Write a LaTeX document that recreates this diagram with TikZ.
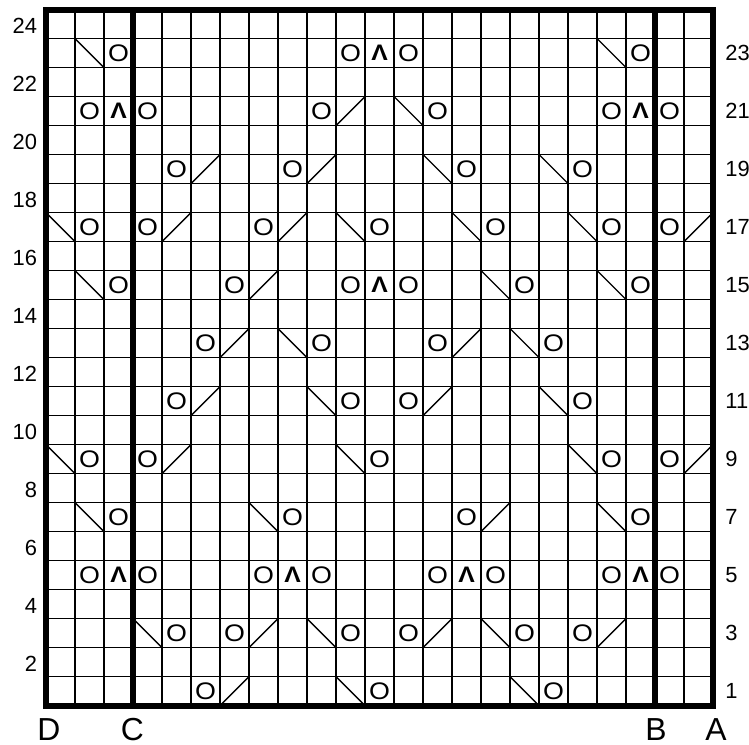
\documentclass[tikz,border=0pt]{standalone}
\usepackage{fontspec}
\setmainfont{Liberation Sans}
\begin{document}
\begin{tikzpicture}[x=0.8cm, y=0.8cm,
        rejilla/.style={line width=1.1pt},
        borde/.style={line width=4.7pt},
        diag/.style={line width=1.1pt},
        simbolo/.style={inner sep=0pt, xscale=1.12, font=\fontsize{18.8}{18.8}\selectfont},
        dismin/.style={inner sep=0pt, xscale=1.1, font=\fontsize{17.6}{17.6}\selectfont\bfseries},
        fila/.style={inner sep=0pt, font=\fontsize{17.2}{17.2}\selectfont},
        letra/.style={inner sep=0pt, font=\fontsize{25}{25}\selectfont}
    ]
    \useasboundingbox (-1.586,-1.328) rectangle (24.241,24.328);

    % cuadricula y bordes
    \foreach \c in {1,...,22}
        \draw [rejilla] (\c,0) -- (\c,24);
    \foreach \r in {1,...,23}
        \draw [rejilla] (0,\r) -- (23,\r);
    \draw [borde] (0,0) rectangle (23,24);
    \draw [borde] (3,0) -- (3,24);
    \draw [borde] (21,0) -- (21,24);

    % echadas
    \foreach \c/\r in {3/23, 11/23, 13/23, 21/23,
                      2/21, 4/21, 10/21, 14/21, 20/21, 22/21,
                      5/19, 9/19, 15/19, 19/19,
                      2/17, 4/17, 8/17, 12/17, 16/17, 20/17, 22/17,
                      3/15, 7/15, 11/15, 13/15, 17/15, 21/15,
                      6/13, 10/13, 14/13, 18/13,
                      5/11, 11/11, 13/11, 19/11,
                      2/9, 4/9, 12/9, 20/9, 22/9,
                      3/7, 9/7, 15/7, 21/7,
                      2/5, 4/5, 8/5, 10/5, 14/5, 16/5, 20/5, 22/5,
                      5/3, 7/3, 11/3, 13/3, 17/3, 19/3,
                      6/1, 12/1, 18/1}
        \node (yo-\c-\r) [simbolo] at (\c-0.5,\r-0.5) {O};

    % disminuciones dobles
    \foreach \c/\r in {12/23, 3/21, 21/21, 12/15, 3/5, 9/5, 15/5, 21/5}
        \node (dd-\c-\r) [dismin] at (\c-0.5,\r-0.5) {Λ};

    % menguados a la izquierda
    \foreach \c/\r in {2/23, 20/23, 13/21, 14/19, 18/19,
                      1/17, 11/17, 15/17, 19/17, 2/15, 16/15, 20/15,
                      9/13, 17/13, 10/11, 18/11, 1/9, 11/9, 19/9,
                      2/7, 8/7, 20/7, 4/3, 10/3, 16/3, 11/1, 17/1}
        \draw [diag] (\c-1,\r) -- (\c,\r-1);

    % menguados a la derecha
    \foreach \c/\r in {11/21, 6/19, 10/19, 5/17, 9/17, 23/17, 8/15,
                      7/13, 15/13, 6/11, 14/11, 5/9, 23/9, 16/7,
                      8/3, 14/3, 20/3, 7/1}
        \draw [diag] (\c-1,\r-1) -- (\c,\r);

    % numeros de fila
    \foreach \r in {2,4,...,24}
        \node (fila-\r) [fila, anchor=east] at (-0.3,\r-0.58) {\r};
    \foreach \r in {1,3,...,23}
        \node (fila-\r) [fila, anchor=west] at (23.42,\r-0.5) {\r};

    \node (marca-D) [letra] at (0.1,-0.82) {D};
    \node (marca-C) [letra] at (2.98,-0.82) {C};
    \node (marca-B) [letra] at (21.03,-0.82) {B};
    \node (marca-A) [letra] at (23.1,-0.82) {A};
\end{tikzpicture}
\end{document}
